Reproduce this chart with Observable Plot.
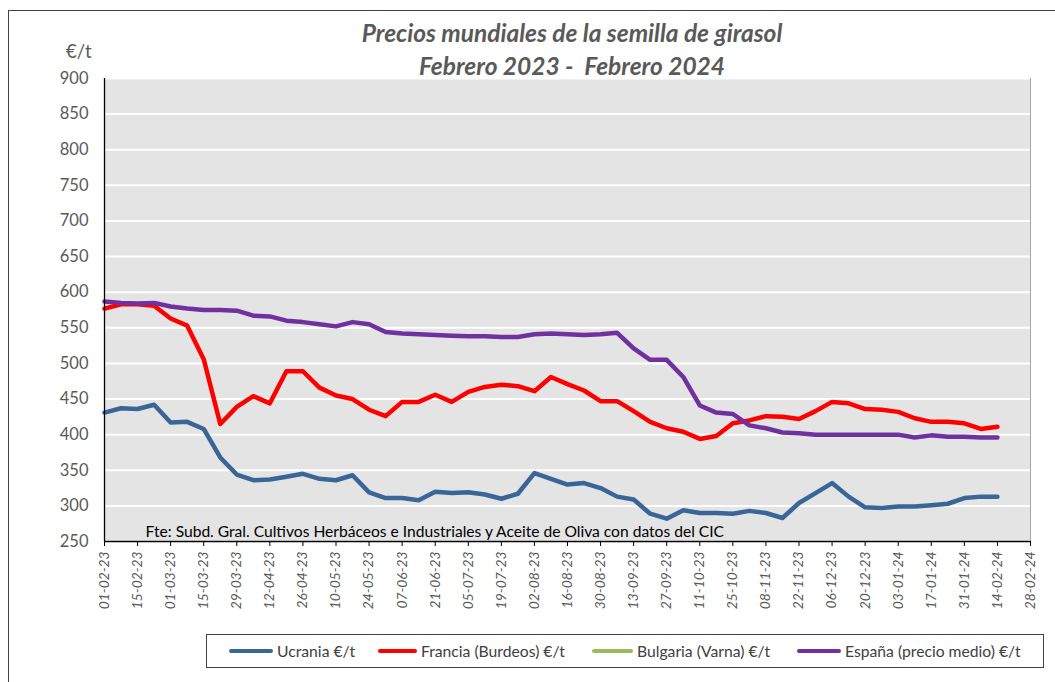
<!DOCTYPE html>
<html><head><meta charset="utf-8">
<script src="https://cdn.jsdelivr.net/npm/d3@7"></script>
<script src="https://cdn.jsdelivr.net/npm/@observablehq/plot@0.6"></script>
<style>
body{margin:0;background:#fff;font-family:Lato,"Open Sans",sans-serif;}
#wrap{position:relative;width:1055px;height:682px;overflow:hidden;background:#fff;}
#outer{position:absolute;left:8px;top:10px;width:1100px;height:700px;border-left:1px solid #404040;border-top:1px solid #404040;}
#chart{position:absolute;left:0;top:0;}
.title{position:absolute;left:0;width:1144px;text-align:center;font-weight:bold;font-style:italic;font-size:24.5px;color:#595959;line-height:30px;}
#unit{position:absolute;left:66px;top:40px;font-size:18.5px;color:#595959;}
#legend{position:absolute;left:206px;top:634px;width:836px;height:32px;border:1px solid #404040;font-size:15.7px;color:#404040;}
.li{position:absolute;top:0;height:32px;line-height:32px;white-space:nowrap;}
.li span.sw{position:absolute;top:14px;height:4px;border-radius:2px;}
</style></head>
<body><div id="wrap">
<div id="outer"></div>
<div id="chart"></div>
<div class="title" style="top:18px">Precios mundiales de la semilla de girasol</div>
<div class="title" style="top:51px">Febrero 2023 -&nbsp; Febrero 2024</div>
<div id="unit">€/t</div>
<div id="legend"></div>
</div>
<script>
const dates = ["2023-02-01","2023-02-08","2023-02-15","2023-02-22","2023-03-01","2023-03-08","2023-03-15","2023-03-22","2023-03-29","2023-04-05","2023-04-12","2023-04-19","2023-04-26","2023-05-03","2023-05-10","2023-05-17","2023-05-24","2023-05-31","2023-06-07","2023-06-14","2023-06-21","2023-06-28","2023-07-05","2023-07-12","2023-07-19","2023-07-26","2023-08-02","2023-08-09","2023-08-16","2023-08-23","2023-08-30","2023-09-06","2023-09-13","2023-09-20","2023-09-27","2023-10-04","2023-10-11","2023-10-18","2023-10-25","2023-11-01","2023-11-08","2023-11-15","2023-11-22","2023-11-29","2023-12-06","2023-12-13","2023-12-20","2023-12-27","2024-01-03","2024-01-10","2024-01-17","2024-01-24","2024-01-31","2024-02-07","2024-02-14"];
const ucrania = [431,437,436,442,417,418,408,368,344,336,337,341,345,338,336,343,319,311,311,308,320,318,319,316,310,317,346,338,330,332,325,313,309,289,282,294,290,290,289,293,290,283,304,318,332,313,298,297,299,299,301,303,311,313,313];
const francia = [577,583,583,581,563,553,506,415,439,454,444,489,489,466,455,450,435,426,446,446,456,446,460,467,470,468,461,481,471,462,447,447,433,418,409,404,394,398,416,420,426,425,422,433,446,444,436,435,432,423,418,418,416,408,411];
const bulgaria = [];
const espana = [587,585,584,585,580,577,575,575,574,567,566,560,558,555,552,558,555,544,542,541,540,539,538,538,537,537,541,542,541,540,541,543,521,505,505,481,441,431,429,413,409,403,402,400,400,400,400,400,400,396,399,397,397,396,396];
const seriesNames = ["Ucrania €/t","Francia (Burdeos) €/t","Bulgaria (Varna) €/t","España (precio medio) €/t"];
const seriesColors = ["#3a6597","#ff0000","#9bbb59","#7030a0"];
const xTicks = ["2023-02-01","2023-02-15","2023-03-01","2023-03-15","2023-03-29","2023-04-12","2023-04-26","2023-05-10","2023-05-24","2023-06-07","2023-06-21","2023-07-05","2023-07-19","2023-08-02","2023-08-16","2023-08-30","2023-09-13","2023-09-27","2023-10-11","2023-10-25","2023-11-08","2023-11-22","2023-12-06","2023-12-20","2024-01-03","2024-01-17","2024-01-31","2024-02-14","2024-02-28"];
const yTicks = [250,300,350,400,450,500,550,600,650,700,750,800,850,900];
const source = "Fte: Subd. Gral. Cultivos Herbáceos e Industriales y Aceite de Oliva con datos del CIC";

const parse = d3.utcParse("%Y-%m-%d");
const allSeries = [ucrania, francia, bulgaria, espana];
const rows = [];
allSeries.forEach((vals, s) => vals.forEach((v, i) => rows.push({date: parse(dates[i]), value: v, serie: seriesNames[s]})));
const tickDates = xTicks.map(parse);
const xDomain = [tickDates[0], tickDates[tickDates.length - 1]];
const yDomain = [yTicks[0], yTicks[yTicks.length - 1]];

const chart = Plot.plot({
  width: 1055, height: 682,
  marginTop: 78, marginBottom: 141, marginLeft: 104, marginRight: 25,
  style: {fontFamily: "Lato, 'Open Sans', sans-serif", fontSize: "14px", color: "#595959", background: "transparent", overflow: "visible"},
  x: {type: "utc", domain: xDomain},
  y: {domain: yDomain},
  color: {domain: seriesNames, range: seriesColors},
  marks: [
    Plot.frame({fill: "#e4e4e4", stroke: "#a6a6a6"}),
    Plot.gridY(yTicks, {stroke: "#ffffff", strokeWidth: 2, strokeOpacity: 1}),
    Plot.line(rows, {x: "date", y: "value", z: "serie", stroke: "serie", strokeWidth: 4.5, strokeLinejoin: "round", strokeLinecap: "round"}),
    Plot.text([source], {text: d => d, frameAnchor: "bottom-left", dx: 41, dy: -5, lineAnchor: "bottom", textAnchor: "start", fill: "#000", fontSize: 15.6}),
    Plot.ruleY([yDomain[0]], {stroke: "#000", strokeWidth: 1.3}),
    Plot.ruleX([xDomain[0]], {stroke: "#000", strokeWidth: 1.3}),
    Plot.axisY(yTicks, {tickSize: 0, tickPadding: 16, fontSize: 16.5, label: null, fill: "#595959"}),
    Plot.axisX(tickDates, {tickSize: 5, tickPadding: 5, tickRotate: -90, tickFormat: d3.utcFormat("%d-%m-%y"), label: null, fontSize: 13.8, fontStyle: "italic", fill: "#595959", stroke: "#000"})
  ]
});
document.getElementById("chart").appendChild(chart);

const legendPos = [[229, 277], [378, 421], [592, 637], [797, 845]];
const leg = document.getElementById("legend");
seriesNames.forEach((name, i) => {
  const [lx, tx] = legendPos[i];
  const sw = document.createElement("div");
  sw.className = "li";
  sw.style.left = (lx - 207) + "px";
  sw.innerHTML = `<span class="sw" style="left:0;width:${tx - lx - 4}px;background:${seriesColors[i]}"></span><span style="position:absolute;left:${tx - lx}px">${name}</span>`;
  leg.appendChild(sw);
});
</script>
</body></html>
